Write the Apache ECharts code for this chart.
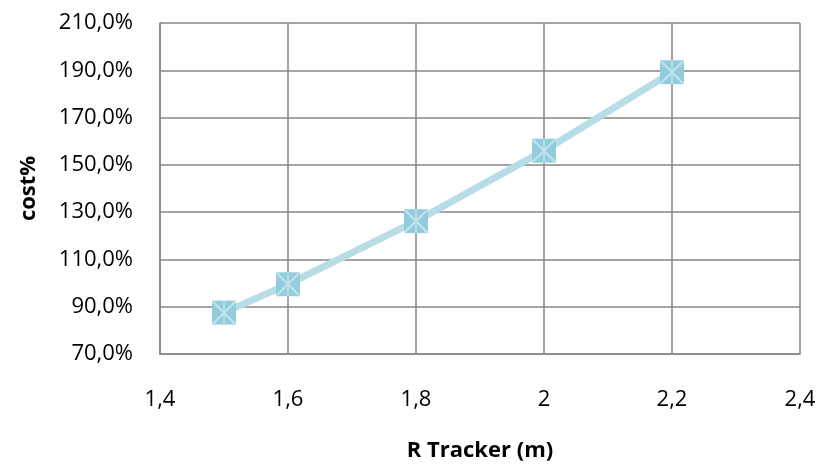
<!DOCTYPE html>
<html>
<head>
<meta charset="utf-8">
<script src="https://cdn.jsdelivr.net/npm/echarts@6/dist/echarts.min.js"></script>
<style>
  html, body { margin: 0; padding: 0; background: #fff; }
  #chart { width: 827px; height: 470px; }
</style>
</head>
<body>
<div id="chart"></div>
<script>
// Tracker radius (m) vs. relative cost (%)
const radius = [1.5, 1.6, 1.8, 2.0, 2.2];
const costPct = [87.5, 99.5, 126.2, 156.0, 189.2];

const points = radius.map((r, i) => [r, costPct[i]]);

const fontFamily = 'Open Sans';
const comma = s => s.replace('.', ',');

// Cross pattern drawn over each square marker
const crossPath = 'path://M0 0 L1.6 0 L24 22.4 L24 24 L22.4 24 L0 1.6 Z ' +
  'M24 0 L24 1.6 L1.6 24 L0 24 L0 22.4 L22.4 0 Z M11.2 0 L12.8 0 L12.8 24 L11.2 24 Z';

const chart = echarts.init(document.getElementById('chart'));
chart.setOption({
  animation: false,
  grid: { left: 160, right: 27, top: 23, bottom: 116 },
  xAxis: {
    type: 'value',
    min: 1.4, max: 2.4, interval: 0.2,
    name: 'R Tracker (m)',
    nameLocation: 'middle',
    nameGap: 86,
    nameTextStyle: { fontFamily, fontSize: 22, fontWeight: 'bold', color: '#000' },
    axisLine: { show: true, lineStyle: { color: '#868686', width: 1.5 } },
    axisTick: { show: false },
    axisLabel: {
      fontFamily, fontSize: 22, color: '#000', margin: 35,
      formatter: v => comma(String(+v.toFixed(1)))
    },
    splitLine: { show: true, lineStyle: { color: '#868686', width: 1.5 } }
  },
  yAxis: {
    type: 'value',
    min: 70, max: 210, interval: 20,
    name: 'cost%',
    nameLocation: 'middle',
    nameRotate: 90,
    nameGap: 120,
    nameTextStyle: { fontFamily, fontSize: 22, fontWeight: 'bold', color: '#000' },
    axisLine: { show: true, lineStyle: { color: '#868686', width: 1.5 } },
    axisTick: { show: false },
    axisLabel: {
      fontFamily, fontSize: 22, color: '#000', margin: 27,
      formatter: v => comma(v.toFixed(1)) + '%'
    },
    splitLine: { show: true, lineStyle: { color: '#868686', width: 1.5 } }
  },
  series: [
    {
      type: 'line',
      data: points,
      lineStyle: { color: '#B7DEE8', width: 7 },
      symbol: 'rect',
      symbolSize: 24,
      itemStyle: { color: '#93CDDD', borderWidth: 0 },
      z: 3
    },
    {
      type: 'line',
      data: points,
      lineStyle: { width: 0, opacity: 0 },
      symbol: crossPath,
      symbolSize: 24,
      itemStyle: { color: '#BFE2EB', borderWidth: 0 },
      z: 4
    }
  ]
});
</script>
</body>
</html>
